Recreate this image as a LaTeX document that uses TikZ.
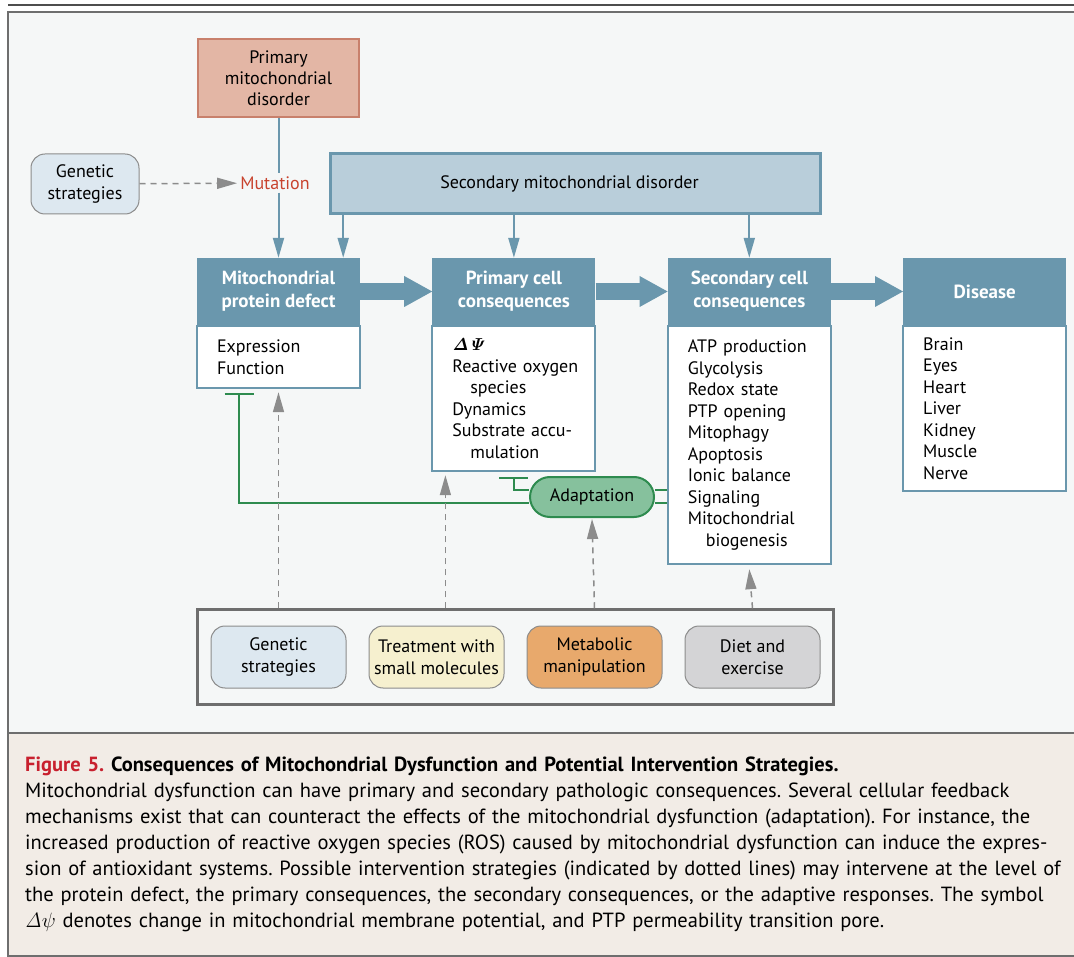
\documentclass[tikz,border=0pt]{standalone}
\usepackage[no-math]{fontspec}
\setmainfont{PT Sans}
\usetikzlibrary{arrows.meta}
\usetikzlibrary{positioning}
\usetikzlibrary{fit}

\definecolor{hdrblue}{HTML}{6A97AD}
\definecolor{secfill}{HTML}{B9CEDA}
\definecolor{primfill}{HTML}{E3B6A5}
\definecolor{primline}{HTML}{C8806C}
\definecolor{genfill}{HTML}{DDE8F0}
\definecolor{treatfill}{HTML}{F6F0CF}
\definecolor{metafill}{HTML}{E8A96C}
\definecolor{dietfill}{HTML}{D4D4D6}
\definecolor{adaptfill}{HTML}{86C19D}
\definecolor{adaptline}{HTML}{2E8B4F}
\definecolor{mutred}{HTML}{C8432E}
\definecolor{figred}{HTML}{C8202E}
\definecolor{dashgray}{HTML}{8C8C8C}
\definecolor{framegray}{HTML}{6E6E6E}
\definecolor{panelbg}{HTML}{F5F7F7}
\definecolor{captionbg}{HTML}{F2ECE6}

\begin{document}
\begin{tikzpicture}[x=1pt,y=-1pt,font=\fontsize{18}{21.5}\selectfont]
  \tikzset{header/.style={rectangle, fill=hdrblue, text=white,
      font=\bfseries\fontsize{19}{23}\selectfont,
      minimum width=163pt, minimum height=67pt,
      align=center, inner sep=0pt}}
  \tikzset{listbox/.style={rectangle, draw=hdrblue, line width=2pt, fill=white,
      text width=123pt, inner xsep=20pt, inner ysep=0pt, align=left}}
  \tikzset{primbox/.style={rectangle, draw=primline, line width=2pt, fill=primfill,
      minimum width=161pt, minimum height=78pt, align=center, inner sep=0pt,
      font=\fontsize{18}{21}\selectfont}}
  \tikzset{secbox/.style={rectangle, draw=hdrblue, line width=3pt, fill=secfill,
      minimum width=490pt, minimum height=60pt}}
  \tikzset{stratbox/.style={rectangle, rounded corners=14pt, draw=dashgray,
      line width=1pt, minimum width=135pt, minimum height=62pt,
      align=center, inner sep=0pt}}
  \tikzset{groupbox/.style={rectangle, draw=framegray, line width=2.5pt,
      inner xsep=13pt, inner ysep=16pt}}
  \tikzset{adaptbox/.style={rectangle, rounded corners=20pt, draw=adaptline,
      line width=2pt, fill=adaptfill, minimum width=124pt, minimum height=40pt}}
  \tikzset{bluearrow/.style={draw=hdrblue, line width=2pt,
      -{Triangle[length=20pt,width=11pt]}}}
  \tikzset{fatarrow/.style={draw=hdrblue, line width=17pt,
      -{Triangle[length=28pt,width=31pt,line width=0pt]}}}
  \tikzset{dasharrow/.style={draw=dashgray, line width=1.5pt,
      dash pattern=on 6pt off 5pt, -{Triangle[length=20pt,width=11pt]}}}
  \tikzset{inhib/.style={draw=adaptline, line width=2pt, -{Bar[width=29pt]}}}
  \tikzset{greenline/.style={draw=adaptline, line width=2pt}}

  \useasboundingbox (0,0) rectangle (1074,957);
  \fill[white] (0,0) rectangle (1074,957);
  \draw[framegray!70!black, line width=2.5pt] (8,5) -- (1080,5);
  \fill[panelbg] (8,12) rectangle (1080,733);
  \draw[framegray, line width=1.5pt] (1080,12) -- (8,12) -- (8,733) -- (1080,733);
  \fill[captionbg] (8,733) rectangle (1080,956);
  \draw[framegray, line width=1.5pt] (1080,733) -- (8,733) -- (8,956) -- (1080,956);

  \node[primbox] (prim) at (278.5,78) {Primary\\mitochondrial\\disorder};
  \node[stratbox, fill=genfill, minimum width=108pt, minimum height=60pt] (genleft) at (85,184) {Genetic\\strategies};
  \node[text=mutred, inner sep=3pt] (mut) at (275,183) {Mutation};
  \node[secbox] (sec) at (575.5,183.5) {Secondary mitochondrial disorder\hspace*{12pt}};

  \node[header] (mpdh) at (278.5,291.5) {Mitochondrial\\protein defect};
  \node[header] (pcch) [right=72pt of mpdh] {Primary cell\\consequences};
  \node[header] (scch) [right=72pt of pcch] {Secondary cell\\consequences};
  \node[header] (dish) [right=72pt of scch] {Disease};

  \node[listbox, minimum height=62pt] (mpdb) [below=0pt of mpdh] {Expression\\Function};
  \node[listbox, minimum height=145pt] (pccb) [below=0pt of pcch]
    {{\boldmath$\mathit{\Delta\Psi}$}\\\mbox{Reactive oxygen}\\\hspace*{18pt}species\\Dynamics\\\mbox{Substrate accu-}\\\hspace*{18pt}mulation};
  \node[listbox, minimum height=238pt] (sccb) [below=0pt of scch]
    {\mbox{ATP production}\\Glycolysis\\Redox state\\PTP opening\\Mitophagy\\Apoptosis\\Ionic balance\\Signaling\\Mitochondrial\\\hspace*{18pt}biogenesis};
  \node[listbox, minimum height=165pt] (disb) [below=0pt of dish]
    {Brain\\Eyes\\Heart\\Liver\\Kidney\\Muscle\\Nerve};

  \node[adaptbox] (adapt) at (592,497) {Adaptation};

  \node[stratbox, fill=genfill] (genetic) at (278.5,657) {Genetic\\strategies};
  \node[stratbox, fill=treatfill] (treat) [right=22pt of genetic] {Treatment with\\small molecules};
  \node[stratbox, fill=metafill] (metab) [right=22pt of treat] {Metabolic\\manipulation};
  \node[stratbox, fill=dietfill] (diet) [right=22pt of metab] {Diet and\\exercise};
  \node[groupbox, fit=(genetic)(diet)] (grp) {};

  \draw[hdrblue, line width=2pt] (prim.south) -- (prim.south |- mut.north);
  \draw[bluearrow] (prim.south |- mut.south) -- (mpdh.north);
  \draw[dasharrow] (genleft) -- (mut);
  \draw[bluearrow] ([xshift=-17pt]mpdh.north east |- sec.south) -- ([xshift=-17pt]mpdh.north east);
  \draw[bluearrow] (sec.south -| pcch.north) -- (pcch.north);
  \draw[bluearrow] (sec.south -| scch.north) -- (scch.north);

  \draw[fatarrow] (mpdh) -- (pcch);
  \draw[fatarrow] (pcch) -- (scch);
  \draw[fatarrow] (scch) -- (dish);

  \draw[inhib] ([yshift=7pt]adapt.west) -| ([yshift=-5pt]pccb.south);
  \draw[inhib] ([yshift=-6pt]adapt.west) -| ([xshift=-39.5pt,yshift=-4pt]mpdb.south);
  \draw[greenline] ([yshift=7pt]adapt.east) -- ([yshift=7pt]adapt.east -| sccb.west);
  \draw[greenline] ([yshift=-6pt]adapt.east) -- ([yshift=-6pt]adapt.east -| sccb.west);

  \draw[dasharrow] (genetic.north |- grp.north) -- ([yshift=-3pt]mpdb.south);
  \draw[dasharrow] ([xshift=14pt]pccb.south west |- grp.north) -- ([xshift=14pt,yshift=-3pt]pccb.south west);
  \draw[dasharrow] (metab.north |- grp.north) -- ([yshift=-1pt]adapt.south);
  \draw[dasharrow] (diet.north |- grp.north) -- ([yshift=-4pt]sccb.south);

  \node[anchor=north west, text width=1080pt, align=left, inner sep=0pt,
    font=\fontsize{20.5}{26}\selectfont\frenchspacing] (caption) at (25,757)
    {{\bfseries\color{figred}Figure 5.} {\bfseries Consequences of Mitochondrial Dysfunction and Potential Intervention Strategies.}\\
     Mitochondrial dysfunction can have primary and secondary pathologic consequences. Several cellular feedback\\
     mechanisms exist that can counteract the effects of the mitochondrial dysfunction (adaptation). For instance, the\\
     increased production of reactive oxygen species (ROS) caused by mitochondrial dysfunction can induce the expres-\\
     sion of antioxidant systems. Possible intervention strategies (indicated by dotted lines) may intervene at the level of\\
     the protein defect, the primary consequences, the secondary consequences, or the adaptive responses. The symbol\\
     $\mathit{\Delta}\psi$ denotes change in mitochondrial membrane potential, and PTP permeability transition pore.};
\end{tikzpicture}
\end{document}
